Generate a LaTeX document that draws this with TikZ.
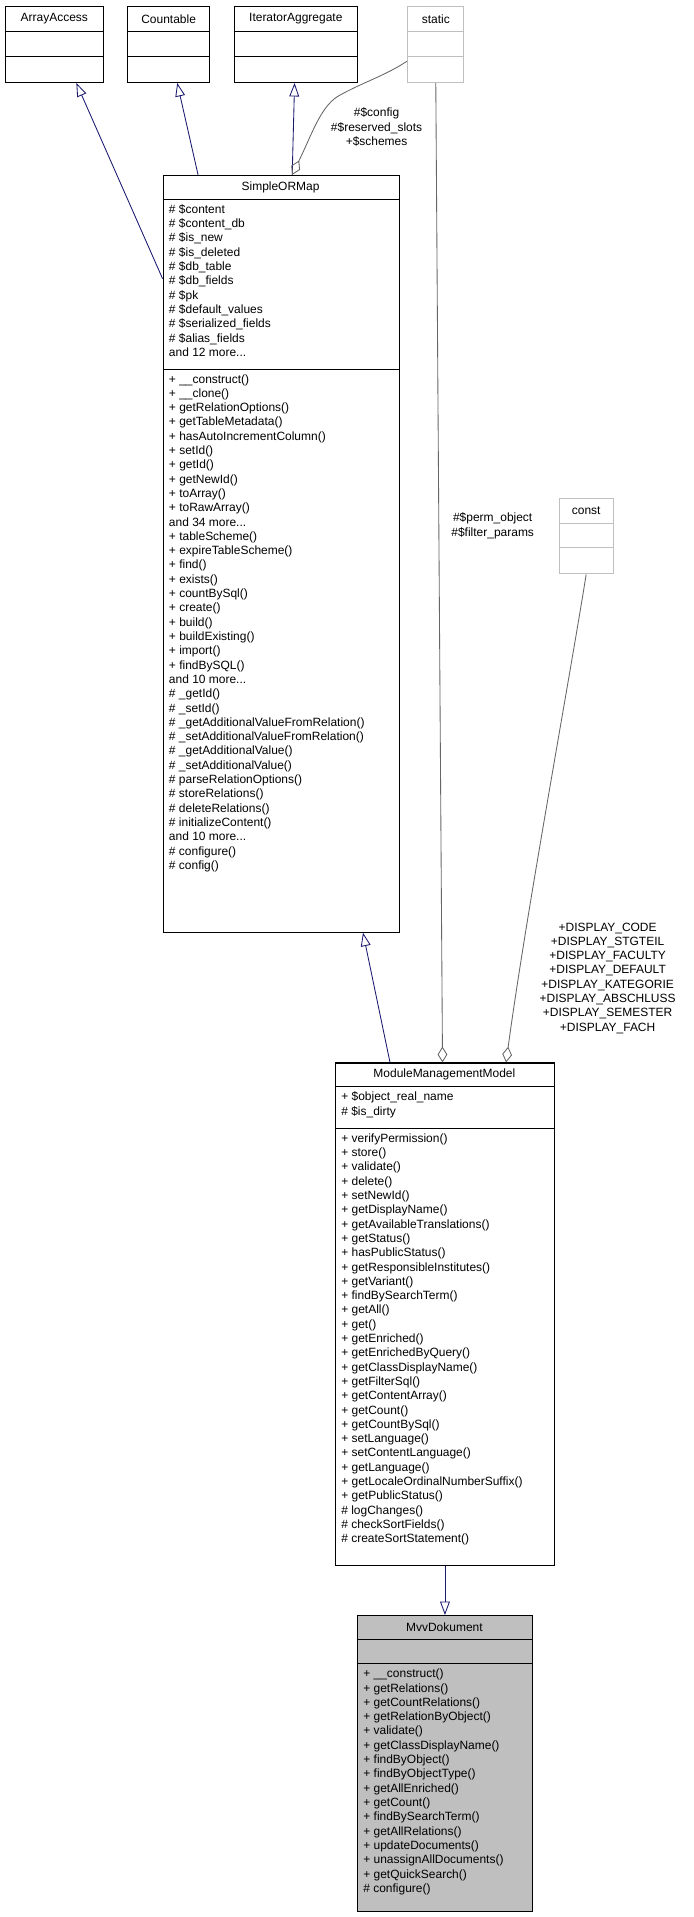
\documentclass[tikz,border=0pt]{standalone}
\usepackage{fontspec}
\setmainfont{Liberation Sans}
\usepackage{tikz}
\usetikzlibrary{arrows.meta,calc}
\definecolor{EdgeBlue}{rgb}{0.1,0.1,0.44}
\definecolor{EdgeGray}{rgb}{0.4,0.4,0.4}
\definecolor{BoxGray}{rgb}{0.75,0.75,0.75}
\tikzset{
  classbox/.style={draw, line width=0.9pt, anchor=north west, inner sep=0pt},
  ghostbox/.style={classbox, draw=BoxGray},
  members/.style={anchor=north west, align=left, inner sep=0pt, font=\fontsize{9.8}{11.7}\selectfont,
    execute at begin node={\baselineskip=11.7pt\lineskip=0pt\lineskiplimit=0pt}},
  title/.style={font=\fontsize{9.8}{11.7}\selectfont},
  inherit/.style={EdgeBlue, line width=0.7pt, -{Triangle[open,length=11pt,width=8pt]}},
  uses/.style={EdgeGray, line width=0.7pt, {Diamond[open,length=13pt,width=8pt]}-},
  tag/.style={align=center, font=\fontsize{9.8}{11.7}\selectfont},
}
\begin{document}
\begin{tikzpicture}[x=1pt,y=-1pt]
    \useasboundingbox (0,0) rectangle (567,1568);
    %%Interfaces
    \node[classbox, minimum width=80, minimum height=62] (aa) at (4,5) {};
    \node[classbox, minimum width=67, minimum height=62] (cnt) at (104,5) {};
    \node[classbox, minimum width=101, minimum height=62] (ita) at (191,5) {};
    \node[ghostbox, minimum width=46, minimum height=62] (stat) at (333,5) {};
    \foreach \b in {aa,cnt,ita}{
      \draw[line width=0.9pt] ($(\b.north west)+(0,21)$) -- ($(\b.north east)+(0,21)$);
      \draw[line width=0.9pt] ($(\b.north west)+(0,41)$) -- ($(\b.north east)+(0,41)$);
    }
    \draw[BoxGray, line width=0.9pt] ($(stat.north west)+(0,21)$) -- ($(stat.north east)+(0,21)$);
    \draw[BoxGray, line width=0.9pt] ($(stat.north west)+(0,41)$) -- ($(stat.north east)+(0,41)$);
    \node[title] at ($(aa.north)+(0,10.5)$) {ArrayAccess};
    \node[title] at ($(cnt.north)+(0,10.5)$) {Countable};
    \node[title] at ($(ita.north)+(0,10.5)$) {IteratorAggregate};
    \node[title] at ($(stat.north)+(0,10.5)$) {static};
    %%const
    \node[ghostbox, minimum width=44, minimum height=62] (cst) at (457,407) {};
    \draw[BoxGray, line width=0.9pt] ($(cst.north west)+(0,21)$) -- ($(cst.north east)+(0,21)$);
    \draw[BoxGray, line width=0.9pt] ($(cst.north west)+(0,41)$) -- ($(cst.north east)+(0,41)$);
    \node[title] at ($(cst.north)+(0,10.5)$) {const};
    %%SimpleORMap
    \node[classbox, minimum width=193, minimum height=619] (smo) at (133,143) {};
    \draw[line width=0.9pt] (133,163) -- (326,163);
    \draw[line width=0.9pt] (133,302) -- (326,302);
    \node[title] at (229.5,153) {SimpleORMap};
    \node[members] (smoattr) at (138,167) {\# \$content\\\# \$content\_db\\\# \$is\_new\\\# \$is\_deleted\\\# \$db\_table\\\# \$db\_fields\\\# \$pk\\\# \$default\_values\\\# \$serialized\_fields\\\# \$alias\_fields\\and 12 more...};
    \node[members] (smometh) at (138,306) {+ \_\_construct()\\+ \_\_clone()\\+ getRelationOptions()\\+ getTableMetadata()\\+ hasAutoIncrementColumn()\\+ setId()\\+ getId()\\+ getNewId()\\+ toArray()\\+ toRawArray()\\and 34 more...\\+ tableScheme()\\+ expireTableScheme()\\+ find()\\+ exists()\\+ countBySql()\\+ create()\\+ build()\\+ buildExisting()\\+ import()\\+ findBySQL()\\and 10 more...\\\# \_getId()\\\# \_setId()\\\# \_getAdditionalValueFromRelation()\\\# \_setAdditionalValueFromRelation()\\\# \_getAdditionalValue()\\\# \_setAdditionalValue()\\\# parseRelationOptions()\\\# storeRelations()\\\# deleteRelations()\\\# initializeContent()\\and 10 more...\\\# configure()\\\# config()};
    %%ModuleManagementModel
    \node[classbox, minimum width=179, minimum height=411] (mmm) at (274,869) {};
    \draw[line width=0.9pt] (274,889) -- (453,889);
    \draw[line width=0.9pt] (274,923) -- (453,923);
    \node[title] at (363.5,879) {ModuleManagementModel};
    \node[members] (mmmattr) at (279,893) {+ \$object\_real\_name\\\# \$is\_dirty};
    \node[members] (mmmmeth) at (279,927) {+ verifyPermission()\\+ store()\\+ validate()\\+ delete()\\+ setNewId()\\+ getDisplayName()\\+ getAvailableTranslations()\\+ getStatus()\\+ hasPublicStatus()\\+ getResponsibleInstitutes()\\+ getVariant()\\+ findBySearchTerm()\\+ getAll()\\+ get()\\+ getEnriched()\\+ getEnrichedByQuery()\\+ getClassDisplayName()\\+ getFilterSql()\\+ getContentArray()\\+ getCount()\\+ getCountBySql()\\+ setLanguage()\\+ setContentLanguage()\\+ getLanguage()\\+ getLocaleOrdinalNumberSuffix()\\+ getPublicStatus()\\\# logChanges()\\\# checkSortFields()\\\# createSortStatement()};
    %%MvvDokument
    \node[classbox, fill=BoxGray, minimum width=143, minimum height=242] (mvv) at (292,1321) {};
    \draw[line width=0.9pt] (292,1341) -- (435,1341);
    \draw[line width=0.9pt] (292,1361) -- (435,1361);
    \node[title] at (363.5,1331) {MvvDokument};
    \node[members] (mvvmeth) at (297,1365) {+ \_\_construct()\\+ getRelations()\\+ getCountRelations()\\+ getRelationByObject()\\+ validate()\\+ getClassDisplayName()\\+ findByObject()\\+ findByObjectType()\\+ getAllEnriched()\\+ getCount()\\+ findBySearchTerm()\\+ getAllRelations()\\+ updateDocuments()\\+ unassignAllDocuments()\\+ getQuickSearch()\\\# configure()};
    %%Inheritance
    \coordinate (smoleft) at (133,228);
    \draw[inherit] (smoleft) -- ($(aa.south)+(18,0)$);
    \draw[inherit] ($(smo.north west)+(29,0)$) -- ($(cnt.south)+(7,0)$);
    \draw[inherit] ($(smo.north west)+(106,0)$) -- ($(ita.south)+(-1,0)$);
    \draw[inherit] ($(mmm.north west)+(45,0)$) -- ($(smo.south east)+(-30,0)$);
    \draw[inherit] (mmm.south) -- (mvv.north);
    %%Usage
    \draw[uses] ($(smo.north west)+(106,0)$) .. controls (255,110) and (262,88) .. (276,79) .. controls (295,68) and (315,62) .. ($(stat.north west)+(0,45)$);
    \draw[uses] ($(mmm.north)+(-2,0)$) -- ($(stat.south)+(0,0)$);
    \draw[uses] ($(mmm.north)+(50,0)$) .. controls (430,750) and (465,560) .. (cst.south);
    \node[tag] at (308,104) {\#\$config\\\#\$reserved\_slots\\+\$schemes};
    \node[tag] at (403,430) {\#\$perm\_object\\\#\$filter\_params};
    \node[tag] at (497,800) {+DISPLAY\_CODE\\+DISPLAY\_STGTEIL\\+DISPLAY\_FACULTY\\+DISPLAY\_DEFAULT\\+DISPLAY\_KATEGORIE\\+DISPLAY\_ABSCHLUSS\\+DISPLAY\_SEMESTER\\+DISPLAY\_FACH};
\end{tikzpicture}
\end{document}
